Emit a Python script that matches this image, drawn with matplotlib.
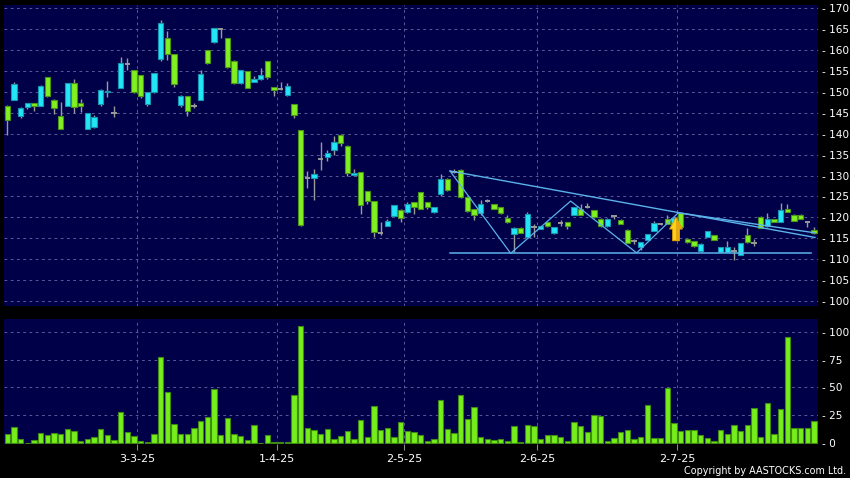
import matplotlib
matplotlib.use("Agg")
import matplotlib.pyplot as plt
from matplotlib.patches import Polygon
import numpy as np

plt.rcParams['font.family'] = ['DejaVu Sans']
plt.rcParams['lines.scale_dashes'] = False

# ---------------- data ----------------
opens = [146.7, 148.1, 144.2, 146.3, 147.3, 146.7, 153.5, 148.1, 144.2, 146.7,
         152.1, 147.4, 141.2, 141.7, 147.1, 150.0, 144.9, 151.0, 156.7, 155.2,
         154.0, 147.1, 150.1, 157.9, 162.9, 159.0, 146.9, 149.0, 146.7, 148.1,
         160.0, 161.9, 165.0, 162.9, 157.4, 152.1, 155.0, 152.5, 153.1, 157.4,
         151.2, 150.8, 149.2, 147.1, 140.9, 129.3, 129.3, 134.0, 134.5, 136.0,
         139.8, 137.1, 130.1, 130.8, 126.3, 123.9, 116.3, 118.0, 120.4, 121.8,
         121.2, 123.6, 126.0, 123.6, 121.2, 125.5, 129.2, 130.9, 131.4, 124.8,
         121.9, 121.0, 124.0, 123.1, 122.4, 119.8, 116.0, 117.5, 115.2, 117.7,
         117.2, 118.9, 116.2, 118.7, 118.8, 120.6, 122.0, 122.4, 121.7, 119.7,
         117.9, 120.3, 119.4, 117.0, 114.3, 113.0, 114.6, 116.8, 118.4, 119.7,
         118.4, 121.0, 114.8, 114.3, 111.9, 115.4, 115.8, 111.7, 111.7, 112.0,
         111.0, 115.9, 113.9, 120.2, 117.9, 119.6, 119.0, 122.1, 120.6, 120.6,
         118.8, 117.0]
highs = [146.9, 152.3, 146.3, 147.4, 147.4, 151.7, 153.6, 148.2, 147.7, 152.2,
         153.1, 148.4, 145.0, 144.5, 150.6, 152.7, 146.7, 158.3, 158.1, 155.3,
         154.1, 150.1, 154.6, 167.2, 164.6, 159.1, 149.3, 149.1, 147.3, 155.3,
         160.1, 165.3, 165.1, 163.0, 157.6, 155.3, 155.1, 153.7, 155.7, 157.5,
         151.3, 152.4, 152.2, 147.2, 141.0, 131.1, 131.6, 138.1, 136.0, 139.5,
         139.9, 137.2, 131.5, 130.9, 126.4, 124.0, 118.8, 119.7, 123.0, 121.9,
         123.7, 123.7, 126.1, 123.7, 122.5, 130.3, 129.3, 131.6, 131.5, 124.9,
         122.0, 124.1, 124.3, 123.2, 122.5, 120.6, 117.6, 117.6, 121.2, 118.3,
         118.0, 119.0, 117.7, 119.3, 118.9, 122.5, 123.2, 123.4, 121.8, 119.8,
         119.8, 120.5, 119.5, 117.1, 114.8, 114.1, 116.1, 119.2, 118.6, 120.6,
         120.0, 121.1, 114.9, 114.4, 113.8, 116.8, 115.9, 113.0, 114.4, 112.9,
         113.9, 117.4, 114.8, 120.3, 121.1, 119.7, 123.4, 123.2, 120.7, 120.8,
         118.9, 117.8]
lows = [139.8, 148.0, 143.7, 145.9, 145.4, 146.6, 148.9, 144.7, 141.1, 146.6,
        145.0, 145.2, 141.1, 141.3, 146.6, 148.8, 144.0, 150.9, 155.2, 149.7,
        148.6, 146.7, 149.8, 157.4, 157.7, 151.1, 146.3, 144.2, 146.1, 148.0,
        156.8, 161.8, 162.9, 155.7, 152.0, 152.0, 150.9, 152.3, 152.9, 153.2,
        149.0, 150.4, 149.1, 143.7, 118.0, 127.1, 124.2, 131.4, 133.4, 135.0,
        137.0, 129.8, 130.0, 120.8, 123.2, 115.4, 115.9, 117.9, 120.3, 119.0,
        121.1, 120.7, 121.9, 121.9, 121.1, 125.1, 126.3, 130.5, 124.6, 121.4,
        119.4, 120.6, 123.7, 122.0, 120.9, 118.7, 111.6, 116.2, 115.1, 115.4,
        117.1, 117.8, 116.1, 118.0, 117.2, 120.5, 120.5, 122.2, 119.9, 117.8,
        117.8, 119.6, 118.4, 113.8, 113.7, 112.1, 114.5, 116.7, 118.2, 118.3,
        118.0, 117.5, 113.9, 112.8, 111.8, 115.3, 114.5, 111.6, 111.6, 109.7,
        110.9, 113.9, 113.1, 117.4, 117.8, 118.9, 118.9, 121.2, 119.1, 119.5,
        117.6, 116.1]
closes = [143.3, 152.0, 146.2, 147.3, 146.7, 151.4, 149.0, 146.1, 141.2, 152.1,
          146.4, 146.7, 144.9, 144.0, 150.5, 150.3, 144.9, 156.9, 156.7, 150.0,
          149.0, 150.0, 154.5, 166.4, 159.0, 151.9, 149.0, 145.5, 146.7, 154.4,
          157.0, 165.2, 165.0, 155.9, 152.2, 155.2, 151.0, 153.2, 154.0, 153.6,
          150.4, 150.8, 151.5, 144.4, 118.1, 129.3, 130.4, 134.0, 135.5, 138.1,
          137.9, 130.7, 130.6, 122.9, 123.8, 116.4, 116.3, 119.1, 122.9, 119.8,
          123.1, 122.4, 122.1, 122.4, 122.4, 129.2, 126.5, 130.9, 124.8, 121.6,
          120.5, 123.1, 124.0, 122.1, 121.0, 118.8, 117.5, 116.3, 120.7, 117.7,
          117.9, 117.9, 117.6, 118.7, 117.9, 122.4, 120.6, 122.4, 120.0, 117.9,
          119.7, 120.3, 118.5, 113.9, 114.3, 114.0, 116.0, 118.7, 118.4, 118.4,
          119.8, 117.6, 114.0, 113.2, 113.7, 116.7, 114.6, 112.9, 112.9, 112.0,
          113.8, 114.0, 113.9, 117.5, 119.6, 119.0, 121.7, 121.3, 119.2, 119.6,
          118.8, 116.2]
volumes = [8.0, 14.2, 3.6, 0.3, 2.7, 9.2, 7.7, 9.5, 8.3, 13.1,
           11.0, 2.4, 3.6, 5.6, 12.5, 7.4, 2.7, 27.6, 9.8, 6.8,
           2.1, 1.2, 8.0, 77.7, 46.3, 16.9, 8.0, 8.0, 13.4, 20.2,
           24.0, 48.4, 7.1, 22.3, 8.6, 6.2, 3.3, 16.3, 0.3, 7.1,
           1.2, 0.9, 0.9, 43.0, 105.0, 13.9, 11.9, 8.3, 12.8, 3.9,
           6.5, 11.0, 4.2, 21.1, 5.6, 33.2, 11.6, 13.9, 5.6, 18.7,
           11.3, 10.4, 7.5, 2.5, 4.2, 38.5, 12.5, 9.0, 43.0, 22.1,
           32.5, 5.4, 3.6, 2.7, 3.6, 1.8, 15.2, 1.2, 16.4, 15.5,
           3.6, 7.2, 7.5, 5.7, 2.1, 19.4, 15.2, 9.9, 25.4, 24.8,
           1.8, 4.5, 10.4, 11.9, 3.9, 5.7, 34.3, 5.1, 4.8, 49.3,
           17.9, 11.0, 11.9, 11.9, 7.2, 5.1, 1.8, 12.2, 8.1, 16.4,
           10.7, 16.4, 31.6, 5.4, 35.8, 8.7, 30.7, 94.9, 13.7, 13.7,
           13.4, 19.7]

# first trading day of each labelled month (index into the series)
tick_index = [20, 41, 60, 80, 101]
tick_labels = ['3-3-25', '1-4-25', '2-5-25', '2-6-25', '2-7-25']

price_ticks = [100, 105, 110, 115, 120, 125, 130, 135, 140, 145, 150, 155, 160, 165, 170]
volume_ticks = [0, 25, 50, 75, 100]

# drawn pattern (annotation anchors: index, price)
zigzag_x = [66.4, 75.5, 84.5, 94.4, 100.65]
zigzag_y = [131.1, 111.4, 123.9, 111.5, 121.1]
trend1_x = [66.4, 121.15]
trend1_y = [131.1, 115.2]
trend2_x = [100.65, 121.15]
trend2_y = [121.1, 116.3]
support_x = [66.4, 120.5]
support_y = [111.4, 111.4]
arrow_x = 100.3
arrow_y = [114.4, 120.0]

# ---------------- style ----------------
BG = '#000000'
PANEL = '#000048'
GRID = '#5a5a98'
UP_FACE, UP_EDGE = '#22e6f6', '#1796b0'
DN_FACE, DN_EDGE = '#80f020', '#4a9418'
WICK = '#9a9a9a'
LINE = '#5cb2ea'

fig = plt.figure(figsize=(8.5, 4.78), dpi=100, facecolor=BG)
W, H = 850.0, 478.0
ax1 = fig.add_axes([4 / W, 1 - 306 / H, 813.5 / W, 301 / H])
ax2 = fig.add_axes([4 / W, 1 - 444 / H, 813.5 / W, 125 / H])

n = len(closes)
x = np.arange(n)
o = np.array(opens); c = np.array(closes); h = np.array(highs); l = np.array(lows)

for ax in (ax1, ax2):
    ax.set_facecolor(PANEL)
    for s in ax.spines.values():
        s.set_visible(False)
    ax.set_xlim(-0.5, 121.53)
    for t in tick_index:
        ax.axvline(t - 0.5, color=GRID, lw=0.7, ls=(0, (2, 2.5)), zorder=1)

# price grid
ax1.set_ylim(98.8, 170.8)
for p in price_ticks:
    ax1.axhline(p, color=GRID, lw=0.7, ls=(0, (2, 2.5)), zorder=1)

# wicks
ax1.vlines(x, l, h, color=WICK, lw=1.0, zorder=2)

up = c > o
dn = c < o
dj = c == o
bw = 0.82
ax1.bar(x[up], (c - o)[up], bottom=o[up], width=bw, color=UP_FACE,
        edgecolor=UP_EDGE, linewidth=0.8, zorder=3)
ax1.bar(x[dn], (o - c)[dn], bottom=c[dn], width=bw, color=DN_FACE,
        edgecolor=DN_EDGE, linewidth=0.8, zorder=3)
ax1.hlines(c[dj], x[dj] - bw / 2, x[dj] + bw / 2, color=WICK, lw=1.4, zorder=3)

# pattern lines
ax1.plot(zigzag_x, zigzag_y, color=LINE, lw=0.9, zorder=4)
ax1.plot(trend1_x, trend1_y, color=LINE, lw=1.0, zorder=4)
ax1.plot(trend2_x, trend2_y, color=LINE, lw=1.0, zorder=4)
ax1.plot(support_x, support_y, color=LINE, lw=1.1, zorder=4)

# yellow arrow
hw, sw = 0.97, 0.52
base, tip = arrow_y
neck = tip - 2.8
arrow_pts = [(arrow_x - sw, base), (arrow_x - sw, neck), (arrow_x - hw, neck),
             (arrow_x, tip), (arrow_x + hw, neck), (arrow_x + sw, neck),
             (arrow_x + sw, base)]
ax1.add_patch(Polygon(arrow_pts, closed=True, facecolor='#ffd21a',
                      edgecolor='#d89a00', lw=0.6, zorder=6))
right_pts = [(arrow_x, base), (arrow_x, tip), (arrow_x + hw, neck),
             (arrow_x + sw, neck), (arrow_x + sw, base)]
ax1.add_patch(Polygon(right_pts, closed=True, facecolor='#e8a810',
                      edgecolor='none', zorder=6))

ax1.yaxis.tick_right()
ax1.set_yticks(price_ticks)
ax1.set_yticklabels(['- %d' % p for p in price_ticks])
ax1.tick_params(axis='y', length=0, pad=3, labelcolor='white', labelsize=7.6)
ax1.set_xticks([])

# volume panel
ax2.set_ylim(-0.6, 111.3)
for v in volume_ticks[1:]:
    ax2.axhline(v, color=GRID, lw=0.7, ls=(0, (2, 2.5)), zorder=1)
ax2.bar(x, volumes, width=0.8, color='#76ee1c', edgecolor='#3f8a12',
        linewidth=0.8, zorder=3)
ax2.yaxis.tick_right()
ax2.set_yticks(volume_ticks)
ax2.set_yticklabels(['- %d' % v for v in volume_ticks])
ax2.tick_params(axis='y', length=0, pad=3, labelcolor='white', labelsize=7.6)
ax2.set_xticks([t - 0.5 for t in tick_index])
ax2.set_xticklabels(tick_labels)
ax2.tick_params(axis='x', length=4, width=0.8, color='#8a8a8a', pad=3,
                labelcolor='white', labelsize=8)

fig.text(846 / W, 1 - 471 / H, 'Copyright by AASTOCKS.com Ltd.', color='white',
         fontsize=6.9, ha='right', va='center')

fig.savefig('out.png', dpi=100, facecolor=BG)
